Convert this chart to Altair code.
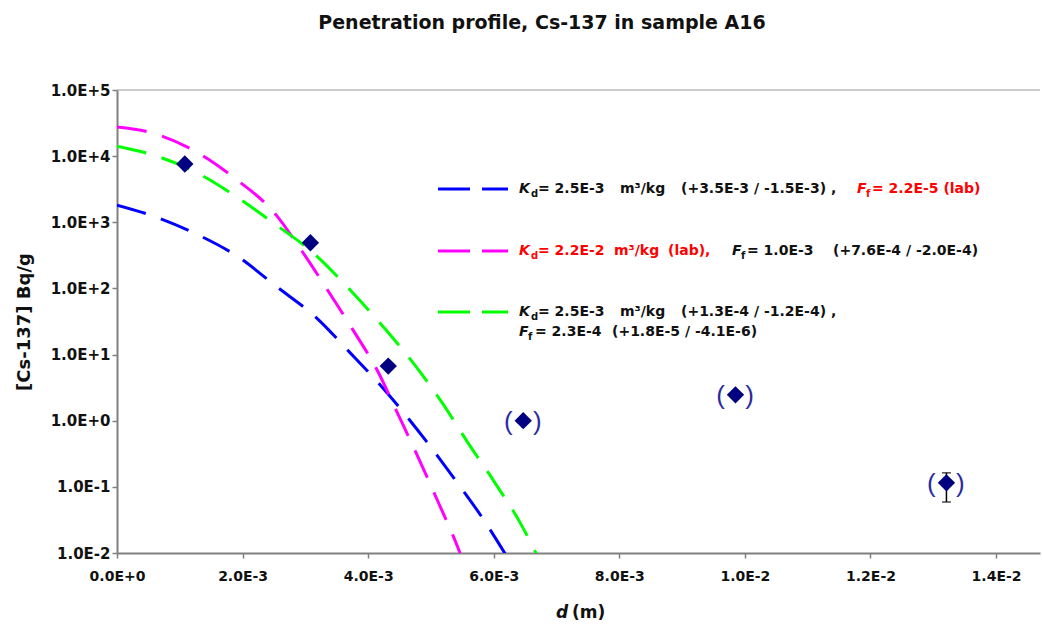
import altair as alt
import pandas as pd

# ---------------- data ----------------
# measured activity, depth d in m, concentration in Bq/g
D_MEAS = [1.08e-3, 3.08e-3, 4.32e-3, 6.47e-3, 9.85e-3, 13.21e-3]
C_MEAS = [7.6e3, 4.9e2, 6.7, 1.0, 2.46, 0.115]
BRACKETED = [False, False, False, True, True, True]
ERR_D = [13.21e-3]
ERR_LO = [0.059]
ERR_HI = [0.163]

# model curves
BLUE_D = [0.0, 0.56e-3, 1.27e-3, 1.93e-3, 2.55e-3, 3.16e-3, 3.71e-3, 4.22e-3,
          4.91e-3, 5.36e-3, 5.82e-3, 6.22e-3]
BLUE_C = [1.82e3, 1.26e3, 6.6e2, 3.0e2, 1.05e2, 37.2, 10.7, 3.24,
          0.513, 0.138, 0.0339, 0.00851]
MAGENTA_D = [0.0, 0.56e-3, 1.27e-3, 1.91e-3, 2.49e-3, 2.92e-3, 3.35e-3, 3.76e-3,
             4.14e-3, 4.48e-3, 4.80e-3, 5.12e-3, 5.43e-3, 5.47e-3]
MAGENTA_C = [2.75e4, 2.24e4, 1.15e4, 4.37e3, 1.45e3, 398, 95.5, 23.4,
             5.89, 1.23, 0.275, 0.0575, 0.0120, 0.00955]
GREEN_D = [0.0, 0.56e-3, 1.27e-3, 1.91e-3, 2.49e-3, 3.12e-3, 3.71e-3, 4.24e-3,
           4.72e-3, 5.18e-3, 5.58e-3, 6.02e-3, 6.42e-3, 6.74e-3]
GREEN_C = [1.41e4, 1.05e4, 5.62e3, 2.40e3, 977, 347, 95.5, 26.3,
           7.41, 1.86, 0.479, 0.115, 0.0288, 0.00741]

SERIES = ["blue", "magenta", "green"]
SERIES_COLORS = ["#0000FF", "#FF00FF", "#00FF00"]

X_TICKS = [0.0, 0.002, 0.004, 0.006, 0.008, 0.010, 0.012, 0.014]
Y_TICKS = [1e-2, 1e-1, 1e0, 1e1, 1e2, 1e3, 1e4, 1e5]

TITLE = "Penetration profile, Cs-137 in sample A16"
Y_TITLE = "[Cs-137] Bq/g"

# ---------------- frames ----------------
curve_df = pd.concat([
    pd.DataFrame({"d": BLUE_D, "c": BLUE_C, "series": "blue"}),
    pd.DataFrame({"d": MAGENTA_D, "c": MAGENTA_C, "series": "magenta"}),
    pd.DataFrame({"d": GREEN_D, "c": GREEN_C, "series": "green"}),
], ignore_index=True)
meas_df = pd.DataFrame({"d": D_MEAS, "c": C_MEAS, "br": BRACKETED})
br_df = meas_df[meas_df["br"]].reset_index(drop=True)
err_df = pd.DataFrame({"d": ERR_D, "lo": ERR_LO, "hi": ERR_HI})
cap_df = pd.DataFrame({"d": ERR_D * 2, "c": ERR_LO + ERR_HI})
DUMMY = pd.DataFrame({"a": [0]})

# ---------------- layout ----------------
W, H = 923, 463
OX, OY = 117, 90
FONT = "DejaVu Sans"
TXT = "#111111"
RED = "#FF0000"

xscale = alt.Scale(domain=[0, 0.0147], nice=False, zero=False)
yscale = alt.Scale(type="log", domain=[0.01, 1e5], nice=False)

x_axis = alt.Axis(values=X_TICKS, title=None, grid=False,
                  labelExpr="replace(format(datum.value, '.1e'), 'e', 'E')",
                  labelFont=FONT, labelFontSize=14, labelFontWeight="bold",
                  labelColor=TXT, labelPadding=11, labelFlush=False,
                  domainColor="#808080", domainWidth=2,
                  tickColor="#808080", tickWidth=1.5, tickSize=5)
y_axis = alt.Axis(values=Y_TICKS, title=Y_TITLE, grid=False,
                  labelExpr="'1.0E' + (datum.value >= 1 ? '+' : '-') + format(abs(round(log(datum.value) / LN10)), 'd')",
                  labelFont=FONT, labelFontSize=15, labelFontWeight="bold",
                  labelColor=TXT, labelPadding=2,
                  titleFont=FONT, titleFontSize=18, titleFontWeight="bold",
                  titleColor=TXT, titlePadding=17,
                  domainColor="#808080", domainWidth=2,
                  tickColor="#808080", tickWidth=1.5, tickSize=5)

curves = alt.Chart(curve_df).mark_line(
    strokeDash=[30, 16], strokeWidth=3, clip=True, interpolate="monotone"
).encode(
    x=alt.X("d:Q", scale=xscale, axis=x_axis),
    y=alt.Y("c:Q", scale=yscale, axis=y_axis),
    color=alt.Color("series:N", scale=alt.Scale(domain=SERIES, range=SERIES_COLORS), legend=None),
)

err = alt.Chart(err_df).mark_rule(color="#000000", strokeWidth=1.5).encode(
    x="d:Q", y="lo:Q", y2="hi:Q")
caps = alt.Chart(cap_df).mark_tick(color="#000000", thickness=1.5, size=9,
                                    orient="horizontal").encode(x="d:Q", y="c:Q")

points = alt.Chart(meas_df).mark_point(
    shape="diamond", filled=True, size=300, color="#000080", opacity=1
).encode(x="d:Q", y="c:Q")

lpar = alt.Chart(br_df).mark_text(text="(", dx=-15, dy=1, fontSize=26, font="Liberation Sans",
                                  color="#2b2ba0", baseline="middle", align="center").encode(x="d:Q", y="c:Q")
rpar = alt.Chart(br_df).mark_text(text=")", dx=14, dy=1, fontSize=26, font="Liberation Sans",
                                  color="#2b2ba0", baseline="middle", align="center").encode(x="d:Q", y="c:Q")

top_border = alt.Chart(DUMMY).mark_rule(color="#9a9a9a", strokeWidth=1).encode(
    x=alt.value(0), x2=alt.value(W), y=alt.value(0))


def txt(s, x, y, color=TXT, size=14, italic=False, align="left"):
    return alt.Chart(DUMMY).mark_text(
        text=s, align=align, baseline="middle", font=FONT, fontSize=size,
        fontWeight="bold", fontStyle="italic" if italic else "normal", color=color
    ).encode(x=alt.value(x - OX), y=alt.value(y - OY))


def leg_line(color, y):
    return alt.Chart(DUMMY).mark_rule(color=color, strokeWidth=3, strokeDash=[32, 12]).encode(
        x=alt.value(438 - OX), x2=alt.value(508 - OX), y=alt.value(y - OY))


R1, R2, R3, R4 = 189, 251, 312, 332
SUB = 5
annot = [
    txt(TITLE, 542, 23, size=19, align="center"),
    txt("d", 562, 613, size=17, italic=True, align="center"),
    txt("(m)", 572, 613, size=17),
    leg_line(SERIES_COLORS[0], R1),
    leg_line(SERIES_COLORS[1], R2),
    leg_line(SERIES_COLORS[2], R3),
    # row 1
    txt("K", 519, R1, italic=True),
    txt("d", 531, R1 + SUB, size=10),
    txt("= 2.5E-3", 538, R1),
    txt("m³/kg", 620, R1),
    txt("(+3.5E-3 / -1.5E-3) ,", 681, R1),
    txt("F", 857, R1, color=RED, italic=True),
    txt("f", 866, R1 + SUB, color=RED, size=10),
    txt("= 2.2E-5 (lab)", 872, R1, color=RED),
    # row 2
    txt("K", 519, R2, color=RED, italic=True),
    txt("d", 531, R2 + SUB, color=RED, size=10),
    txt("= 2.2E-2", 538, R2, color=RED),
    txt("m³/kg", 614, R2, color=RED),
    txt("(lab),", 668, R2, color=RED),
    txt("F", 732, R2, italic=True),
    txt("f", 741, R2 + SUB, size=10),
    txt("= 1.0E-3", 747, R2),
    txt("(+7.6E-4 / -2.0E-4)", 833, R2),
    # row 3
    txt("K", 519, R3, italic=True),
    txt("d", 531, R3 + SUB, size=10),
    txt("= 2.5E-3", 538, R3),
    txt("m³/kg", 620, R3),
    txt("(+1.3E-4 / -1.2E-4) ,", 681, R3),
    # row 4
    txt("F", 519, R4, italic=True),
    txt("f", 528, R4 + SUB, size=10),
    txt("= 2.3E-4", 535, R4),
    txt("(+1.8E-5 / -4.1E-6)", 612, R4),
]

chart = alt.layer(curves, err, caps, points, lpar, rpar, top_border, *annot).properties(
    width=W, height=H,
    autosize=alt.AutoSizeParams(type="none"),
    padding={"left": OX, "top": OY, "right": 1042 - OX - W, "bottom": 624 - OY - H},
    background="white",
).configure_view(stroke=None)

chart.save("out.html", embed_options={"renderer": "svg", "actions": False})
